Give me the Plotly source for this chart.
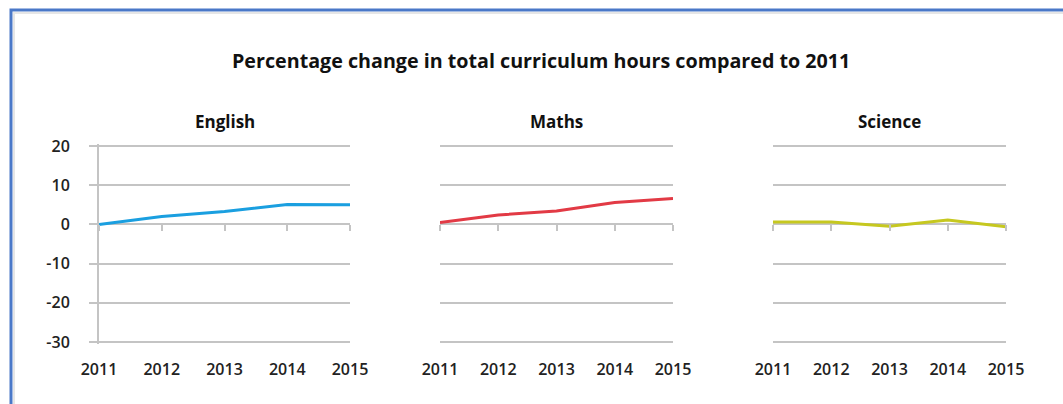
import plotly.graph_objects as go

W, H = 1063, 404

years = [2011, 2012, 2013, 2014, 2015]
subjects = ["English", "Maths", "Science"]
english = [0.0, 2.0, 3.3, 5.1, 5.0]
maths = [0.5, 2.4, 3.4, 5.6, 6.6]
science = [0.6, 0.6, -0.5, 1.1, -0.6]
series = [english, maths, science]
colors = ["#1a9fe0", "#e23a45", "#c6c820"]
y_ticks = [-30, -20, -10, 0, 10, 20]
y_ticklabels = [str(v) for v in y_ticks]
y_min, y_max = -30, 20

title_text = "Percentage change in total curriculum hours compared to 2011"

FONT = "Open Sans"
GRID = "#c4c4c4"
TXT = "#222222"

# panel layout in pixels
x_doms_px = [(99, 350), (440, 673), (773, 1006)]
y_dom_px = (146, 342)  # pixel rows of y_max and y_min

def px_x(p):
    return p / W

def px_y(p):
    return 1 - p / H

# pad the range slightly so edge gridlines are drawn
pad = 0.6
px_per_unit = (y_dom_px[1] - y_dom_px[0]) / (y_max - y_min)
pad_px = pad * px_per_unit
y_range = [y_min - pad, y_max + pad]
ydom = [px_y(y_dom_px[1] + pad_px), px_y(y_dom_px[0] - pad_px)]

fig = go.Figure()
layout = dict(
    width=W, height=H,
    margin=dict(l=0, r=0, t=0, b=0),
    paper_bgcolor="white", plot_bgcolor="white",
    showlegend=False,
    font=dict(family=FONT, color=TXT),
)

tick_font = dict(size=16, family=FONT, color=TXT, weight=600)

annotations = []
for i, (name, vals, col) in enumerate(zip(subjects, series, colors)):
    n = i + 1
    xa = "x" if n == 1 else f"x{n}"
    ya = "y" if n == 1 else f"y{n}"
    fig.add_trace(go.Scatter(
        x=years, y=vals, mode="lines", xaxis=xa, yaxis=ya,
        line=dict(color=col, width=3), name=name, cliponaxis=False,
    ))
    xd = [px_x(x_doms_px[i][0]), px_x(x_doms_px[i][1])]
    layout[f"xaxis{'' if n == 1 else n}"] = dict(
        domain=xd, anchor=ya, range=[2011, 2015], tickvals=years,
        ticktext=[str(y) for y in years], showgrid=False, zeroline=False,
        showline=False, ticks="outside", ticklen=10, tickcolor="rgba(0,0,0,0)",
        tickfont=tick_font, automargin=False, fixedrange=True,
    )
    ycfg = dict(
        domain=ydom, anchor=xa, range=y_range, tickvals=y_ticks,
        ticktext=y_ticklabels,
        showgrid=True, gridcolor=GRID, gridwidth=2, zeroline=False,
        automargin=False, fixedrange=True,
    )
    if n == 1:
        ycfg.update(showline=True, linecolor=GRID, linewidth=2,
                    ticks="outside", ticklen=8, tickcolor=GRID, tickwidth=2,
                    showticklabels=True, ticklabelstandoff=16,
                    tickfont=tick_font)
    else:
        ycfg.update(showline=False, ticks="", showticklabels=False)
    layout[f"yaxis{'' if n == 1 else n}"] = ycfg

    # tick-mark axis crossing at zero
    zero_pos = ydom[0] + (0 - y_range[0]) / (y_range[1] - y_range[0]) * (ydom[1] - ydom[0])
    m = n + 3
    layout[f"xaxis{m}"] = dict(
        overlaying=xa, domain=xd, anchor="free", position=zero_pos,
        range=[2011, 2015], tickvals=years, showticklabels=False,
        ticks="outside", ticklen=6, tickwidth=2, tickcolor=GRID,
        showgrid=False, zeroline=False, showline=False, fixedrange=True,
    )
    fig.add_trace(go.Scatter(x=[], y=[], xaxis=f"x{m}", yaxis=ya, showlegend=False))

    annotations.append(dict(
        text=f"<b>{name}</b>", x=(xd[0] + xd[1]) / 2, y=px_y(121),
        xref="paper", yref="paper", showarrow=False,
        font=dict(size=17, family=FONT, color="#111111"),
        xanchor="center", yanchor="middle",
    ))

annotations.append(dict(
    text=f"<b>{title_text}</b>", x=px_x(541), y=px_y(60),
    xref="paper", yref="paper", showarrow=False,
    font=dict(size=19.7, family=FONT, color="#111111"),
    xanchor="center", yanchor="middle",
))
layout["annotations"] = annotations

layout["shapes"] = [
    dict(type="rect", xref="paper", yref="paper",
         x0=px_x(14), x1=1.05, y0=-0.1, y1=px_y(13),
         line=dict(color="#e6e6e6", width=2), layer="below"),
    dict(type="rect", xref="paper", yref="paper",
         x0=px_x(11), x1=1.05, y0=-0.1, y1=px_y(10),
         line=dict(color="#4a78c8", width=3), layer="above"),
]

fig.update_layout(**layout)
fig.write_html(
    "out.html",
    config={"displayModeBar": False},
    post_script="document.body.style.margin='0px';document.body.style.overflow='hidden';",
)
